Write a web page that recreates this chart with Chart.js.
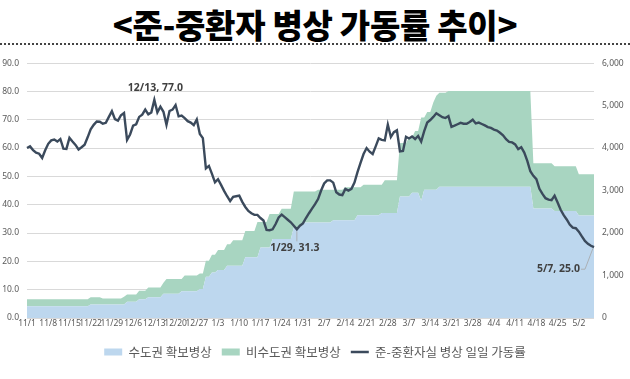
<!DOCTYPE html>
<html><head><meta charset="utf-8">
<script src="https://cdn.jsdelivr.net/npm/chart.js@4.4.1/dist/chart.umd.min.js"></script>
<style>
html,body{margin:0;padding:0;background:#fff;width:630px;height:379px;overflow:hidden;}
#title{position:absolute;left:0;top:2px;width:630px;height:44px;line-height:44px;text-align:center;font-family:"Noto Sans CJK KR";font-weight:900;font-size:33px;color:#000;letter-spacing:-0.3px;}
#rule{position:absolute;left:0;top:43px;width:630px;height:0;border-top:2px dotted #444;}
#wrap{position:absolute;left:0;top:50px;width:630px;height:329px;}
</style></head><body>
<div id="title">&lt;준-중환자 병상 가동률 추이&gt;</div>
<div id="rule"></div>
<div id="wrap"><canvas id="c" width="630" height="329"></canvas></div>
<script>
// ---- data ----
const startDate = [2020, 10, 1]; // 2020-11-01
const dayCount = 188;            // through 2021-05-07
const seriesNames = ['수도권 확보병상', '비수도권 확보병상', '준-중환자실 병상 일일 가동률'];

// 준-중환자실 병상 일일 가동률 (%), left axis
const occupancyRate = [
  60.0, 60.6, 59.3, 58.4, 58.0, 56.5, 59.2,
  61.5, 62.7, 63.0, 62.3, 63.2, 59.8, 59.7,
  63.6, 62.3, 61.1, 59.5, 60.3, 61.2, 63.8,
  66.6, 68.2, 69.4, 69.3, 68.6, 68.9, 71.0,
  73.0, 70.2, 69.7, 71.6, 72.4, 62.9, 64.8,
  67.9, 68.4, 71.0, 71.8, 73.6, 71.9, 72.6,
  77.0, 72.6, 74.6, 72.8, 68.2, 73.1, 73.6,
  75.2, 71.2, 71.5, 70.6, 69.5, 69.0, 68.1,
  70.1, 65.0, 63.5, 52.8, 53.7, 50.9, 47.9,
  49.0, 47.0, 44.9, 43.0, 41.3, 42.8, 43.0,
  43.2, 41.0, 39.2, 37.8, 37.0, 36.4, 36.4,
  35.3, 34.4, 31.1, 31.0, 31.3, 33.2, 35.5,
  36.5, 35.6, 34.7, 33.8, 32.6, 31.3, 32.6,
  33.4, 35.3, 37.0, 38.6, 40.2, 42.0, 45.0,
  47.5, 48.6, 48.6, 47.8, 44.4, 43.6, 43.4,
  45.6, 45.0, 45.6, 47.8, 51.5, 54.8, 57.9,
  60.0, 58.7, 57.9, 60.6, 63.4, 62.9, 62.7,
  68.3, 63.9, 65.6, 66.3, 58.8, 59.0, 64.0,
  63.4, 64.1, 63.2, 64.3, 62.3, 66.0, 69.0,
  69.9, 71.0, 72.3, 71.6, 70.9, 70.6, 71.3,
  67.5, 67.9, 68.4, 68.9, 68.6, 68.6, 69.2,
  70.0, 68.7, 69.0, 68.5, 68.0, 67.4, 67.1,
  66.5, 66.2, 65.4, 64.5, 63.1, 62.2, 62.0,
  61.3, 59.6, 60.3, 58.4, 55.5, 51.8, 50.2,
  49.0, 45.6, 43.8, 42.3, 41.8, 41.6, 43.2,
  40.8, 38.2, 36.3, 34.8, 33.0, 31.9, 31.7,
  30.5, 28.8, 27.2, 26.2, 25.5, 25.0
];

// 수도권 확보병상 (beds), right axis
const capitalBeds = [
  275, 275, 275, 275, 275, 275, 275,
  275, 275, 275, 275, 275, 275, 275,
  275, 275, 275, 275, 275, 275, 275,
  315, 315, 315, 315, 315, 315, 315,
  315, 315, 315, 315, 315, 380, 380,
  380, 380, 440, 440, 440, 490, 490,
  490, 490, 490, 570, 570, 570, 570,
  570, 570, 630, 630, 630, 630, 630,
  630, 680, 680, 970, 970, 1070, 1070,
  1130, 1130, 1130, 1230, 1230, 1230, 1230,
  1230, 1230, 1430, 1430, 1430, 1430, 1430,
  1660, 1660, 1660, 1660, 1860, 1860, 1860,
  1860, 1860, 1860, 1860, 2130, 2130, 2130,
  2250, 2250, 2250, 2250, 2250, 2250, 2250,
  2250, 2250, 2250, 2300, 2300, 2300, 2300,
  2300, 2300, 2300, 2300, 2420, 2420, 2420,
  2420, 2420, 2420, 2420, 2420, 2470, 2470,
  2470, 2470, 2470, 2470, 2860, 2860, 2860,
  2860, 2950, 2950, 2950, 2760, 3020, 3020,
  3020, 3020, 3020, 3090, 3090, 3090, 3090,
  3090, 3090, 3090, 3090, 3090, 3090, 3090,
  3090, 3090, 3090, 3090, 3090, 3090, 3090,
  3090, 3090, 3090, 3090, 3090, 3090, 3090,
  3090, 3090, 3090, 3090, 3090, 3090, 2580,
  2580, 2580, 2580, 2580, 2580, 2580, 2520,
  2520, 2520, 2520, 2520, 2520, 2520, 2520,
  2410, 2410, 2410, 2410, 2410, 2410
];

// 비수도권 확보병상 (beds), stacked on top, right axis
const nonCapitalBeds = [
  165, 165, 165, 165, 165, 165, 165,
  165, 165, 165, 165, 165, 165, 165,
  165, 165, 165, 165, 165, 165, 165,
  172, 172, 172, 172, 145, 145, 145,
  145, 145, 145, 145, 185, 175, 175,
  175, 175, 200, 200, 200, 230, 230,
  230, 230, 230, 260, 350, 350, 350,
  350, 350, 290, 370, 370, 370, 370,
  370, 365, 365, 380, 380, 420, 420,
  470, 470, 470, 505, 505, 600, 600,
  600, 600, 620, 620, 620, 620, 830,
  600, 600, 600, 790, 590, 590, 590,
  710, 710, 710, 710, 845, 845, 845,
  725, 725, 725, 725, 725, 770, 770,
  770, 770, 770, 720, 720, 720, 720,
  775, 775, 775, 775, 655, 655, 715,
  715, 715, 715, 715, 715, 665, 770,
  770, 770, 770, 770, 1260, 1260, 1260,
  1390, 1300, 1450, 1450, 1960, 1700, 1830,
  1830, 2050, 2210, 2210, 2210, 2210, 2255,
  2255, 2255, 2255, 2255, 2255, 2255, 2255,
  2255, 2255, 2255, 2255, 2255, 2255, 2255,
  2255, 2255, 2255, 2255, 2255, 2255, 2255,
  2255, 2255, 2255, 2255, 2255, 2255, 1060,
  1060, 1060, 1060, 1060, 1060, 1060, 1050,
  1050, 1050, 1050, 1050, 1050, 1050, 1050,
  975, 975, 975, 975, 975, 975
];

const leftTicks = { min: 0, max: 90, step: 10 };
const rightTicks = { min: 0, max: 6000, step: 1000 };
const tickEvery = 7;
const callouts = [
  { index: 42, text: '12/13, 77.0' },
  { index: 89, text: '1/29, 31.3' },
  { index: 187, text: '5/7, 25.0' }
];

// categories (daily dates)
const categories = [];
for (let i = 0; i < dayCount; i++) {
  const d = new Date(startDate[0], startDate[1], startDate[2] + i);
  categories.push((d.getMonth() + 1) + '/' + d.getDate());
}

const GRAY = '#595959';
const calloutPlugin = {
  id: 'callouts',
  afterDatasetsDraw(chart) {
    const ctx = chart.ctx, xs = chart.scales.x, ys = chart.scales.y;
    ctx.save();
    ctx.font = 'bold 10.5px "Noto Sans"';
    ctx.fillStyle = '#404040';
    ctx.textBaseline = 'middle';
    ctx.strokeStyle = '#A6A6A6';
    ctx.lineWidth = 0.8;
    callouts.forEach((c, k) => {
      const px = xs.getPixelForValue(c.index);
      const py = ys.getPixelForValue(occupancyRate[c.index]);
      if (k === 0) {
        ctx.textAlign = 'center';
        ctx.fillText(c.text, px + 1, py - 12);
      } else if (k === 1) {
        ctx.beginPath(); ctx.moveTo(px, py + 2); ctx.lineTo(px, py + 12); ctx.stroke();
        ctx.textAlign = 'center';
        ctx.fillText(c.text, px - 2, py + 19);
      } else {
        ctx.beginPath(); ctx.moveTo(px - 13, py + 22); ctx.lineTo(px - 9, py + 22); ctx.lineTo(px - 1, py + 1); ctx.stroke();
        ctx.textAlign = 'right';
        ctx.fillText(c.text, px - 14, py + 22);
      }
    });
    ctx.restore();
  }
};

new Chart(document.getElementById('c'), {
  type: 'line',
  data: {
    labels: categories,
    datasets: [
      {
        label: seriesNames[0], data: capitalBeds, yAxisID: 'y2', stack: 'beds',
        backgroundColor: '#BDD7EE', borderColor: '#BDD7EE', borderWidth: 0,
        fill: 'origin', pointRadius: 0, pointStyle: 'rect', tension: 0, order: 1
      },
      {
        label: seriesNames[1], data: nonCapitalBeds, yAxisID: 'y2', stack: 'beds',
        backgroundColor: '#A8D5C1', borderColor: '#A8D5C1', borderWidth: 0,
        fill: '-1', pointRadius: 0, pointStyle: 'rect', tension: 0, order: 1
      },
      {
        label: seriesNames[2], data: occupancyRate, yAxisID: 'y',
        borderColor: '#3B4A5C', backgroundColor: '#3B4A5C', borderWidth: 2.4,
        fill: false, pointRadius: 0, pointStyle: 'line', tension: 0, order: 0
      }
    ]
  },
  options: {
    responsive: false, animation: false, devicePixelRatio: 1,
    layout: { padding: { top: 13, bottom: 10.75, left: 0, right: 0 } },
    plugins: {
      legend: {
        position: 'bottom',
        labels: {
          usePointStyle: true, pointStyleWidth: 18, boxHeight: 7, padding: 10,
          color: GRAY, font: { family: '"Noto Sans CJK KR"', size: 12.5 },
          sort: (a, b) => a.datasetIndex - b.datasetIndex
        }
      },
      tooltip: { enabled: false }
    },
    scales: {
      x: {
        type: 'category', offset: false,
        grid: { display: false, drawTicks: false }, border: { display: false },
        ticks: {
          autoSkip: false, maxRotation: 0, minRotation: 0, padding: 0, color: GRAY,
          font: { family: '"Noto Sans"', size: 8.5 },
          callback: (v, i) => (i % tickEvery === 0 ? categories[i] : null)
        },
        afterFit(s) { s.height = 17.75; }
      },
      y: {
        position: 'left', min: leftTicks.min, max: leftTicks.max,
        grid: { color: '#D9D9D9', drawTicks: false, lineWidth: 1 }, border: { display: false },
        ticks: { stepSize: leftTicks.step, padding: 8, color: GRAY, font: { family: '"Noto Sans"', size: 8.5 }, callback: v => Number(v).toFixed(1) },
        afterFit(s) { s.width = 27; }
      },
      y2: {
        position: 'right', stacked: true, min: rightTicks.min, max: rightTicks.max,
        grid: { display: false, drawTicks: false }, border: { display: false },
        ticks: { stepSize: rightTicks.step, padding: 8, color: GRAY, font: { family: '"Noto Sans"', size: 8.5 }, callback: v => Number(v).toLocaleString('en-US') },
        afterFit(s) { s.width = 36; }
      }
    }
  },
  plugins: [calloutPlugin]
});
</script>
</body></html>
